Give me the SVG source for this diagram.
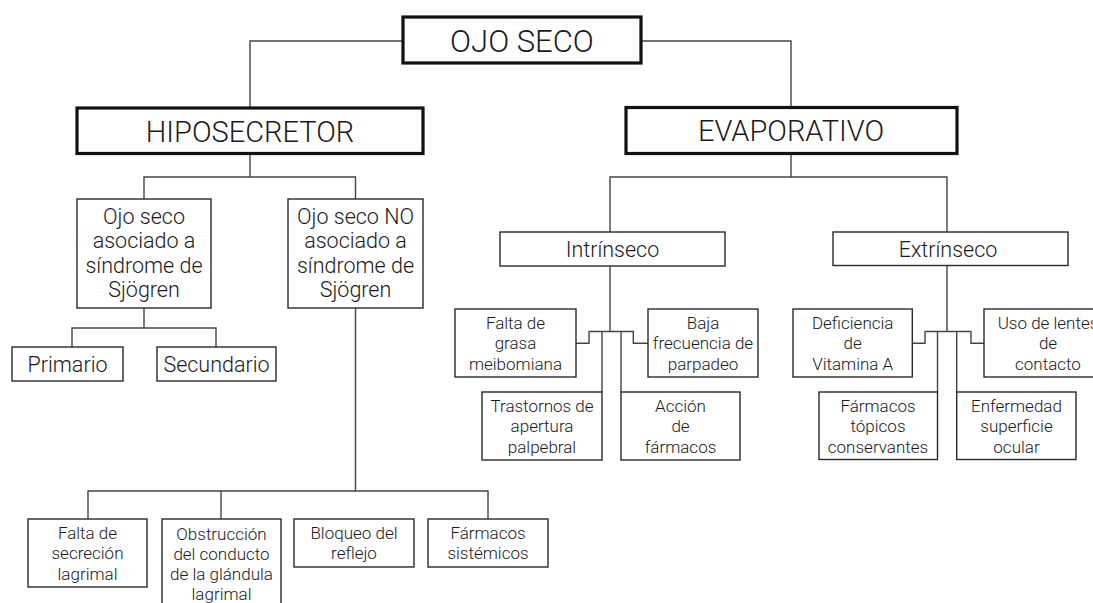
<svg xmlns="http://www.w3.org/2000/svg" width="1093" height="603" viewBox="0 0 1093 603">
<style>
.bx{fill:#fff;stroke:#2a2a2a;stroke-width:1.4}
.bxk{fill:#fff;stroke:#111;stroke-width:3.2}
.t{font-family:Roboto,"Liberation Sans",Arial,sans-serif;font-weight:300;fill:#1a1a1a;text-anchor:middle}
.big{font-size:29px}
.mid{font-size:21.5px}
.sm{font-size:17px}
.cn{fill:none;stroke:#444;stroke-width:1.4}
</style>
<rect width="1093" height="603" fill="#fff"/>
<g id="connectors" class="cn">
<path d="M403,41 H250 V108"/>
<path d="M641,41 H791 V107.5"/>
<path d="M250,153.5 V177"/>
<path d="M144,199 V177 H355.5 V199"/>
<path d="M791,153.5 V177"/>
<path d="M610,232 V177 H947 V232"/>
<path d="M144,308 V328"/>
<path d="M72,347 V328 H216 V347"/>
<path d="M355.5,308 V491"/>
<path d="M88,519 V491 H488 V519"/>
<path d="M221,491 V519"/>
<path d="M610,266 V331.5"/>
<path d="M576,343.3 H589 V331.5 H633.3 V343.3 H648"/>
<path d="M602,331.5 V392"/>
<path d="M621,331.5 V392"/>
<path d="M947,265 V331.5"/>
<path d="M912.3,343.3 H925 V331.5 H971 V343.3 H984"/>
<path d="M937.5,331.5 V392"/>
<path d="M956.7,331.5 V392"/>
</g>
<g id="ojo-seco"><rect class="bxk" x="403" y="17" width="238" height="46"/><text class="t big" x="522" y="51.5" style="font-size:31px">OJO SECO</text></g>
<g id="hiposecretor"><rect class="bxk" x="77" y="108" width="346" height="45.5"/><text class="t big" x="250" y="141.5">HIPOSECRETOR</text></g>
<g id="evaporativo"><rect class="bxk" x="626" y="107.5" width="331" height="46"/><text class="t big" x="791" y="141">EVAPORATIVO</text></g>
<g id="asociado"><rect class="bx" x="77" y="199" width="134" height="109"/><text class="t mid"><tspan x="144" y="223.5">Ojo seco</tspan><tspan x="144" y="248">asociado a</tspan><tspan x="144" y="272.5">síndrome de</tspan><tspan x="144" y="297">Sjögren</tspan></text></g>
<g id="no-asociado"><rect class="bx" x="288" y="199" width="135" height="109"/><text class="t mid"><tspan x="355.5" y="223.5">Ojo seco NO</tspan><tspan x="355.5" y="248">asociado a</tspan><tspan x="355.5" y="272.5">síndrome de</tspan><tspan x="355.5" y="297">Sjögren</tspan></text></g>
<g id="primario"><rect class="bx" x="12" y="347" width="111" height="34"/><text class="t mid" x="67.5" y="371.5">Primario</text></g>
<g id="secundario"><rect class="bx" x="157" y="347" width="119" height="34"/><text class="t mid" x="216.5" y="371.5">Secundario</text></g>
<g id="intrinseco"><rect class="bx" x="500" y="232" width="225" height="34"/><text class="t mid" x="612.5" y="257">Intrínseco</text></g>
<g id="extrinseco"><rect class="bx" x="833" y="232" width="235" height="33.5"/><text class="t mid" x="948" y="257">Extrínseco</text></g>
<g id="falta-grasa"><rect class="bx" x="455" y="309" width="121" height="68"/><text class="t sm"><tspan x="515.5" y="328.5">Falta de</tspan><tspan x="515.5" y="349">grasa</tspan><tspan x="515.5" y="369.5">meibomiana</tspan></text></g>
<g id="baja-frecuencia"><rect class="bx" x="648" y="309" width="110" height="68"/><text class="t sm"><tspan x="703" y="328.5">Baja</tspan><tspan x="703" y="349">frecuencia de</tspan><tspan x="703" y="369.5">parpadeo</tspan></text></g>
<g id="trastornos"><rect class="bx" x="482" y="392" width="120" height="68"/><text class="t sm"><tspan x="542" y="411.5">Trastornos de</tspan><tspan x="542" y="432">apertura</tspan><tspan x="542" y="452.5">palpebral</tspan></text></g>
<g id="accion"><rect class="bx" x="621" y="392" width="119" height="68"/><text class="t sm"><tspan x="680.5" y="411.5">Acción</tspan><tspan x="680.5" y="432">de</tspan><tspan x="680.5" y="452.5">fármacos</tspan></text></g>
<g id="deficiencia"><rect class="bx" x="793" y="309" width="119.3" height="68"/><text class="t sm"><tspan x="852.7" y="328.5">Deficiencia</tspan><tspan x="852.7" y="349">de</tspan><tspan x="852.7" y="369.5">Vitamina A</tspan></text></g>
<g id="uso-lentes"><rect class="bx" x="984" y="309" width="130" height="68"/><text class="t sm"><tspan x="1048" y="328.5">Uso de lentes</tspan><tspan x="1048" y="349">de</tspan><tspan x="1048" y="369.5">contacto</tspan></text></g>
<g id="farmacos-topicos"><rect class="bx" x="819" y="392" width="118.5" height="67.5"/><text class="t sm"><tspan x="878" y="411.5">Fármacos</tspan><tspan x="878" y="432">tópicos</tspan><tspan x="878" y="452.5">conservantes</tspan></text></g>
<g id="enfermedad"><rect class="bx" x="956.7" y="392" width="119.3" height="67.5"/><text class="t sm"><tspan x="1016.5" y="411.5">Enfermedad</tspan><tspan x="1016.5" y="432">superficie</tspan><tspan x="1016.5" y="452.5">ocular</tspan></text></g>
<g id="falta-secrecion"><rect class="bx" x="28" y="519" width="119" height="68"/><text class="t sm"><tspan x="87.5" y="538.5">Falta de</tspan><tspan x="87.5" y="559">secreción</tspan><tspan x="87.5" y="579.5">lagrimal</tspan></text></g>
<g id="obstruccion"><rect class="bx" x="162" y="519" width="119" height="100"/><text class="t sm"><tspan x="221.5" y="539.5">Obstrucción</tspan><tspan x="221.5" y="559.5">del conducto</tspan><tspan x="221.5" y="579.5">de la glándula</tspan><tspan x="221.5" y="599.5">lagrimal</tspan></text></g>
<g id="bloqueo"><rect class="bx" x="294" y="519" width="120" height="48"/><text class="t sm"><tspan x="354" y="538.5">Bloqueo del</tspan><tspan x="354" y="559">reflejo</tspan></text></g>
<g id="farmacos-sistemicos"><rect class="bx" x="428" y="519" width="120" height="48"/><text class="t sm"><tspan x="488" y="538.5">Fármacos</tspan><tspan x="488" y="559">sistémicos</tspan></text></g>
</svg>
